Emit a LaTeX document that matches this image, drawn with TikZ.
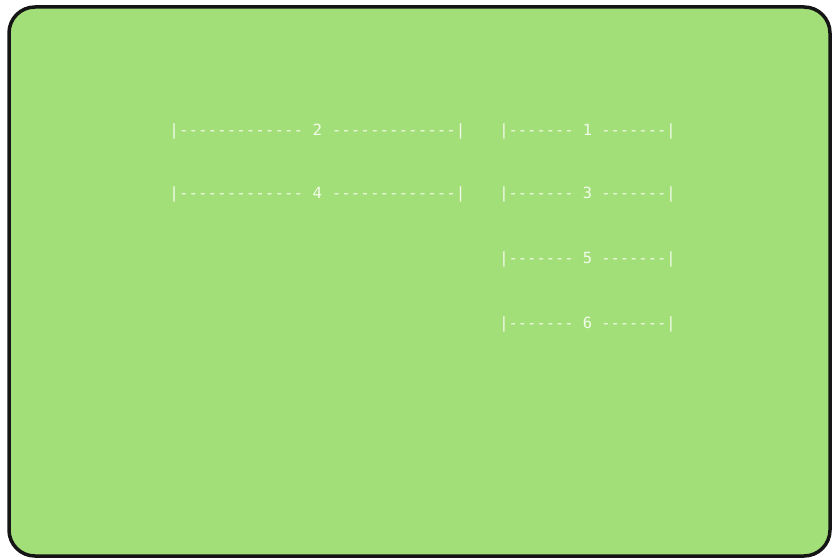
\documentclass[tikz,border=0pt]{standalone}
\usepackage{fontspec}
\newfontfamily\scrfont{DejaVu Sans Mono}
\definecolor{screen}{HTML}{A2DF78}
\definecolor{frame}{HTML}{151515}
\definecolor{txt}{HTML}{F2FBEA}
\tikzset{
  field/.style={text=txt, font=\scrfont\fontsize{15.4pt}{16pt}\selectfont, inner sep=0pt, anchor=center}
}
\begin{document}
\begin{tikzpicture}[x=1pt,y=-1pt]
\useasboundingbox (0,0) rectangle (833,559);
\fill[white] (0,0) rectangle (833,559);
\draw[frame, line width=3.5pt, fill=screen, rounded corners=26pt] (9,7) rectangle (830,556);
\node[field] (f2) at (317.5,131) {\scalebox{1.03}[1]{|------------- 2 -------------|}};
\node[field] (f1) at (587.5,131) {|------- 1 -------|};
\node[field] (f4) at (317.5,194) {\scalebox{1.03}[1]{|------------- 4 -------------|}};
\node[field] (f3) at (587.5,194) {|------- 3 -------|};
\node[field] (f5) at (587.5,259) {|------- 5 -------|};
\node[field] (f6) at (587.5,324) {|------- 6 -------|};
\end{tikzpicture}
\end{document}
